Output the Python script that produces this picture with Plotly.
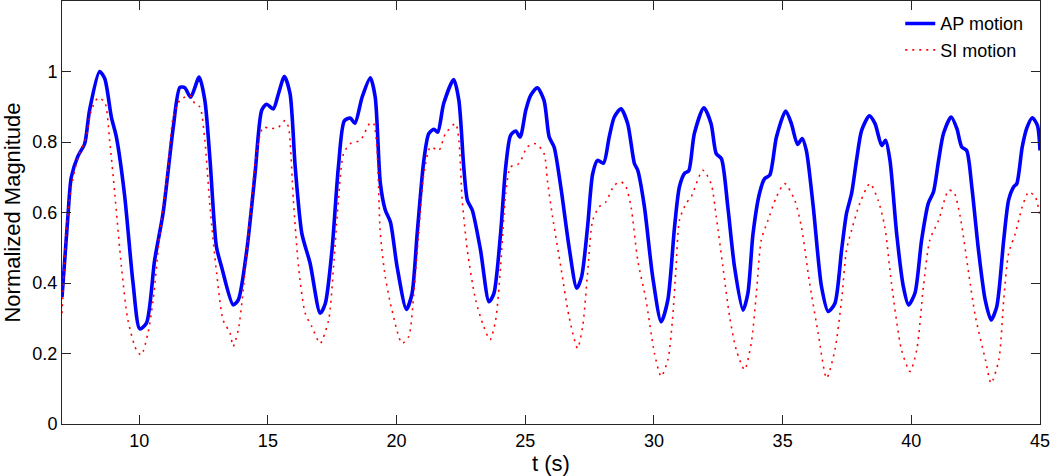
import plotly.graph_objects as go

ap_t = [7.0, 7.23, 7.36, 7.62, 7.88, 8.07, 8.46, 8.66, 8.92, 9.11, 9.43, 9.76, 10.02, 10.28, 10.6, 10.93,
        11.32, 11.58, 11.77, 12.0, 12.33, 12.55, 12.75, 13.0, 13.2, 13.65, 13.85, 14.18, 14.5, 14.76, 14.95,
        15.21, 15.41, 15.64, 15.86, 16.06, 16.32, 16.64, 17.03, 17.23, 17.49, 17.74, 17.97, 18.2, 18.38,
        18.66, 18.98, 19.17, 19.37, 19.56, 19.76, 20.02, 20.38, 20.6, 20.8, 21.06, 21.25, 21.45, 21.6, 21.83,
        22.22, 22.42, 22.61, 22.75, 22.94, 23.26, 23.59, 23.78, 24.04, 24.24, 24.43, 24.63, 24.8, 25.02,
        25.21, 25.47, 25.73, 25.93, 26.12, 26.38, 26.7, 27.0, 27.19, 27.42, 27.62, 27.81, 28.04, 28.26,
        28.46, 28.72, 28.98, 29.24, 29.37, 29.63, 29.95, 30.28, 30.54, 30.8, 30.99, 31.2, 31.35, 31.57,
        31.94, 32.22, 32.42, 32.62, 32.87, 33.13, 33.46, 33.65, 33.85, 34.1, 34.3, 34.5, 34.76, 35.12,
        35.34, 35.58, 35.76, 35.92, 36.19, 36.51, 36.77, 37.03, 37.29, 37.48, 37.68, 37.87, 38.07, 38.37,
        38.59, 38.85, 39.0, 39.17, 39.43, 39.69, 39.89, 40.14, 40.4, 40.66, 40.86, 41.06, 41.25, 41.55,
        41.77, 41.96, 42.15, 42.35, 42.61, 42.87, 43.1, 43.32, 43.59, 43.78, 43.98, 44.1, 44.31, 44.5,
        44.7, 44.9, 45.0]
ap_val = [0.36, 0.59, 0.70, 0.76, 0.795, 0.89, 1.0, 0.98, 0.87, 0.815, 0.65, 0.40, 0.27, 0.286, 0.465, 0.60,
          0.84, 0.955, 0.954, 0.927, 0.984, 0.918, 0.75, 0.503, 0.446, 0.338, 0.352, 0.493, 0.71, 0.89, 0.907,
          0.894, 0.937, 0.986, 0.937, 0.73, 0.54, 0.456, 0.314, 0.342, 0.493, 0.73, 0.86, 0.868, 0.853,
          0.927, 0.982, 0.927, 0.682, 0.607, 0.573, 0.446, 0.325, 0.37, 0.54, 0.748, 0.824, 0.836, 0.828, 0.909,
          0.977, 0.918, 0.729, 0.635, 0.607, 0.494, 0.347, 0.37, 0.54, 0.729, 0.819, 0.831, 0.814, 0.89,
          0.932, 0.954, 0.918, 0.814, 0.786, 0.673, 0.503, 0.385, 0.418, 0.559, 0.71, 0.748, 0.74, 0.814,
          0.871, 0.894, 0.852, 0.739, 0.72, 0.616, 0.418, 0.29, 0.352, 0.559, 0.673, 0.712, 0.718, 0.824,
          0.897, 0.852, 0.767, 0.753, 0.616, 0.446, 0.323, 0.371, 0.54, 0.654, 0.696, 0.706, 0.814, 0.888,
          0.852, 0.793, 0.81, 0.776, 0.616, 0.39, 0.319, 0.342, 0.493, 0.597, 0.654, 0.748, 0.833, 0.874,
          0.852, 0.79, 0.805, 0.748, 0.54, 0.39, 0.338, 0.371, 0.522, 0.626, 0.658, 0.748, 0.824, 0.871,
          0.838, 0.786, 0.776, 0.673, 0.493, 0.352, 0.295, 0.333, 0.522, 0.635, 0.673, 0.682, 0.786, 0.842,
          0.869, 0.847, 0.776]

si_t = [7.0, 7.16, 7.36, 7.64, 7.94, 8.14, 8.4, 8.66, 8.85, 9.05, 9.31, 9.56, 9.89, 10.08, 10.34, 10.54,
        10.8, 11.12, 11.32, 11.58, 11.97, 12.16, 12.36, 12.55, 12.75, 13.01, 13.26, 13.53, 13.65, 13.85,
        14.04, 14.3, 14.57, 14.82, 15.08, 15.41, 15.67, 15.8, 15.99, 16.19, 16.45, 16.71, 17.03, 17.36,
        17.55, 17.74, 17.94, 18.2, 18.59, 18.98, 19.11, 19.24, 19.37, 19.56, 19.82, 20.21, 20.47, 20.67,
        20.86, 21.06, 21.32, 21.64, 21.9, 22.29, 22.42, 22.55, 22.75, 23.07, 23.39, 23.63, 23.85, 24.04,
        24.24, 24.43, 24.76, 25.08, 25.41, 25.73, 25.86, 26.06, 26.38, 26.7, 27.03, 27.23, 27.42, 27.62,
        27.87, 28.13, 28.46, 28.72, 28.91, 29.11, 29.37, 29.69, 30.02, 30.28, 30.54, 30.73, 30.86, 30.99,
        31.25, 31.45, 31.9, 32.22, 32.42, 32.68, 32.94, 33.2, 33.52, 33.78, 33.98, 34.17, 34.43, 34.76,
        35.08, 35.47, 35.73, 36.05, 36.38, 36.71, 37.03, 37.29, 37.48, 37.68, 38.0, 38.39, 38.71, 38.97,
        39.23, 39.62, 39.95, 40.21, 40.47, 40.72, 41.06, 41.45, 41.65, 41.9, 42.23, 42.49, 42.88, 43.1,
        43.4, 43.59, 43.78, 44.04, 44.31, 44.56, 44.82, 45.0]
si_val = [0.314, 0.54, 0.673, 0.76, 0.814, 0.89, 0.925, 0.913, 0.805, 0.654, 0.446, 0.295, 0.21, 0.196, 0.258, 0.352,
          0.54, 0.729, 0.871, 0.918, 0.932, 0.909, 0.899, 0.805, 0.616, 0.427, 0.295, 0.258, 0.22, 0.267,
          0.38, 0.588, 0.776, 0.842, 0.838, 0.842, 0.861, 0.842, 0.635, 0.446, 0.314, 0.276, 0.229, 0.295,
          0.446, 0.635, 0.767, 0.795, 0.805, 0.855, 0.852, 0.776, 0.54, 0.418, 0.323, 0.229, 0.248, 0.371,
          0.54, 0.71, 0.786, 0.776, 0.824, 0.852, 0.805, 0.635, 0.493, 0.352, 0.276, 0.239, 0.295, 0.446,
          0.654, 0.729, 0.739, 0.786, 0.795, 0.767, 0.691, 0.588, 0.446, 0.305, 0.215, 0.276, 0.427, 0.578,
          0.616, 0.63, 0.677, 0.687, 0.673, 0.616, 0.465, 0.352, 0.201, 0.135, 0.182, 0.305, 0.446, 0.578,
          0.626, 0.645, 0.72, 0.682, 0.588, 0.446, 0.305, 0.21, 0.154, 0.229, 0.371, 0.522, 0.578, 0.644,
          0.682, 0.635, 0.559, 0.399, 0.258, 0.13, 0.21, 0.352, 0.493, 0.55, 0.626, 0.682, 0.635, 0.559,
          0.399, 0.21, 0.149, 0.21, 0.39, 0.522, 0.578, 0.663, 0.658, 0.588, 0.427, 0.305, 0.182, 0.116,
          0.182, 0.352, 0.484, 0.54, 0.616, 0.658, 0.644, 0.588]

x_ticks = [10, 15, 20, 25, 30, 35, 40, 45]
y_ticks = [0, 0.2, 0.4, 0.6, 0.8, 1]

FONT = "Liberation Sans, Arial, sans-serif"

fig = go.Figure()
fig.add_trace(go.Scatter(x=ap_t, y=ap_val, mode="lines", name="AP motion",
                         line=dict(color="#0000FF", width=3.6, shape="spline", smoothing=0.7)))
fig.add_trace(go.Scatter(x=si_t, y=si_val, mode="lines", name="SI motion",
                         line=dict(color="#FF0000", width=1.6, dash="2px,5px", shape="spline", smoothing=0.7)))

axis_common = dict(showgrid=False, zeroline=False, showline=True, linecolor="#262626", linewidth=1,
                   mirror="ticks", ticks="inside", ticklen=9, tickwidth=1, tickcolor="#262626",
                   ticklabeloverflow="allow",
                   tickfont=dict(family=FONT, size=18, color="#000000"))

fig.update_layout(
    width=1050, height=476,
    margin=dict(l=62, r=10, t=1, b=52),
    paper_bgcolor="white", plot_bgcolor="white",
    font=dict(family=FONT, color="#000000"),
    xaxis=dict(range=[7, 45], tickvals=x_ticks, ticktext=[str(v) for v in x_ticks],
               title=dict(text="t (s)", font=dict(family=FONT, size=22), standoff=8), **axis_common),
    yaxis=dict(range=[0, 1.2], tickvals=y_ticks, ticktext=["0", "0.2", "0.4", "0.6", "0.8", "1"],
               title=dict(text="Normalized Magnitude", font=dict(family=FONT, size=22), standoff=6),
               **axis_common),
    legend=dict(x=0.988, y=0.99, xanchor="right", yanchor="top", bgcolor="rgba(0,0,0,0)",
                font=dict(family=FONT, size=18), tracegroupgap=0),
    showlegend=True,
)

fig.write_html("out.html", config={"displayModeBar": False},
               post_script="document.body.style.margin='0px';document.body.style.overflow='hidden';")
